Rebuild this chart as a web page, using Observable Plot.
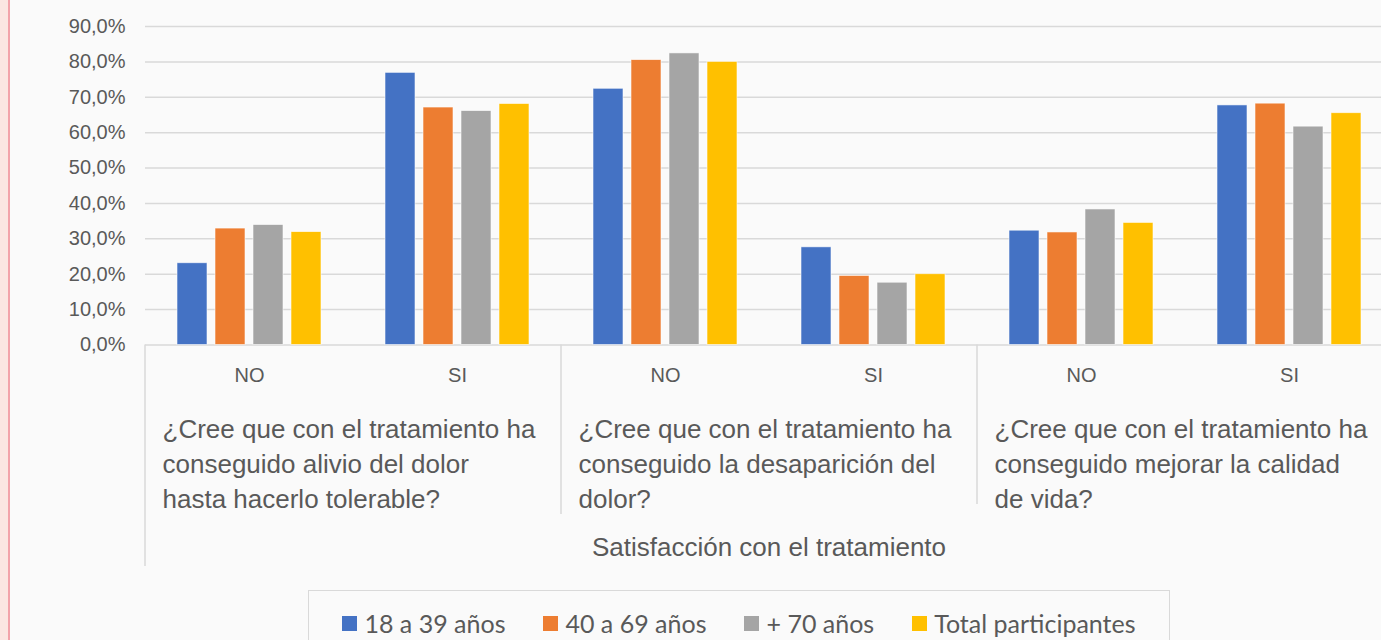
<!DOCTYPE html>
<html>
<head>
<meta charset="utf-8">
<script src="https://cdn.jsdelivr.net/npm/d3@7"></script>
<script src="https://cdn.jsdelivr.net/npm/@observablehq/plot@0.6"></script>
<style>
  html, body { margin: 0; padding: 0; background: #fafafa; width: 1381px; height: 640px; overflow: hidden; }
  #wrap { position: relative; width: 1381px; height: 640px; overflow: hidden; }
  #strip { position: absolute; left: 0; top: 0; width: 8px; height: 640px; background: #fbe6e2; border-right: 2px solid #f2a3aa; }
  #chart { position: absolute; left: 0; top: 0; width: 1393px; }
  #chart svg { max-width: none !important; font-family: "Liberation Sans", Arial, sans-serif !important; }
  #legend { position: absolute; left: 308px; top: 590px; width: 862px; height: 70px; border: 1px solid #d9d9d9;
            display: flex; justify-content: center; align-items: flex-start; gap: 38px; padding-top: 17px; box-sizing: border-box;
            font-family: Lato, "Open Sans", sans-serif; font-size: 25px; color: #595959; }
  .item { display: flex; align-items: center; gap: 7px; line-height: 30px; white-space: nowrap; }
  .sw { width: 15px; height: 15px; display: inline-block; }
</style>
</head>
<body>
<div id="wrap">
  <div id="strip"></div>
  <div id="chart"></div>
  <div id="legend"></div>
</div>
<script>
// ---- data ----
const groupLabels = [
  "¿Cree que con el tratamiento ha\nconseguido alivio del dolor\nhasta hacerlo tolerable?",
  "¿Cree que con el tratamiento ha\nconseguido la desaparición del\ndolor?",
  "¿Cree que con el tratamiento ha\nconseguido mejorar la calidad\nde vida?"
];
const answers = ["NO", "SI"];
const axisTitle = "Satisfacción con el tratamiento";
const series = ["18 a 39 años", "40 a 69 años", "+ 70 años", "Total participantes"];
const colors = ["#4472C4", "#ED7D31", "#A5A5A5", "#FFC000"];
// values per series, order: G1 NO, G1 SI, G2 NO, G2 SI, G3 NO, G3 SI (in %)
const v18to39 = [23.1, 76.9, 72.4, 27.6, 32.3, 67.7];
const v40to69 = [32.9, 67.1, 80.5, 19.5, 31.8, 68.2];
const v70plus = [33.9, 66.1, 82.4, 17.6, 38.3, 61.7];
const vTotal  = [31.9, 68.1, 80.0, 20.0, 34.5, 65.5];
const yTicks = [0, 10, 20, 30, 40, 50, 60, 70, 80, 90];

// ---- build table ----
const seriesValues = [v18to39, v40to69, v70plus, vTotal];
const keys = [];
groupLabels.forEach((g, gi) => answers.forEach(a => keys.push(`${gi}|${a}`)));
const rows = [];
keys.forEach((k, ci) => series.forEach((s, si) => rows.push({key: k, series: s, value: seriesValues[si][ci]})));
const groupRows = groupLabels.map((label, gi) => ({key: `${gi}|NO`, label}));

const fmt = d => d.toFixed(1).replace(".", ",") + "%";
const textColor = "#595959";

const chart = Plot.plot({
  width: 1393,
  height: 590,
  marginLeft: 145,
  marginRight: 0,
  marginTop: 26,
  marginBottom: 245.5,
  style: {background: "transparent", fontFamily: "Liberation Sans, Arial, sans-serif", color: textColor, overflow: "visible"},
  fx: {domain: keys, padding: 0, label: null, axis: null},
  x: {domain: series, paddingInner: 0.21, paddingOuter: 0.84, axis: null},
  y: {domain: [0, 90], label: null, axis: null},
  color: {domain: series, range: colors},
  marks: [
    Plot.gridY(yTicks, {stroke: "#d9d9d9", strokeOpacity: 1, strokeWidth: 1.5}),
    Plot.axisY(yTicks, {tickSize: 0, tickPadding: 20, fontSize: 20, tickFormat: fmt, label: null, fill: textColor}),
    Plot.barY(rows, {fx: "key", x: "series", y: "value", fill: "series", stroke: "#ffffff", strokeWidth: 0.8, strokeOpacity: 0.7}),
    Plot.axisFx({anchor: "bottom", tickSize: 0, tickPadding: 22.5, fontSize: 20, tickFormat: k => k.split("|")[1], label: null, fill: textColor}),
    Plot.text(groupRows, {fx: "key", text: "label", frameAnchor: "bottom-left", textAnchor: "start", lineAnchor: "top",
      dx: 17, dy: 68, fontSize: 26, lineHeight: 1.346, fill: textColor})
  ]
});
document.getElementById("chart").appendChild(chart);

// multi-level axis dividers and the axis title, positioned from the fx scale
const fx = chart.scale("fx");
const svg = d3.select(chart);
const yBase = chart.scale("y").apply(0);
const groupStarts = groupLabels.map((g, gi) => fx.apply(`${gi}|NO`));
const dividerEnds = [566, 514, 504];
groupStarts.forEach((x, i) => {
  svg.append("line").attr("x1", x).attr("x2", x).attr("y1", yBase).attr("y2", dividerEnds[i])
     .attr("stroke", "#d9d9d9").attr("stroke-width", 1.5);
});
const xRange = fx.range;
svg.append("text")
   .attr("x", (xRange[0] + xRange[1]) / 2)
   .attr("y", 556)
   .attr("text-anchor", "middle")
   .attr("font-size", 26)
   .attr("fill", textColor)
   .text(axisTitle);

// legend
const legend = document.getElementById("legend");
series.forEach((s, i) => {
  const it = document.createElement("div");
  it.className = "item";
  const sw = document.createElement("span");
  sw.className = "sw";
  sw.style.background = colors[i];
  const tx = document.createElement("span");
  tx.textContent = s;
  it.appendChild(sw); it.appendChild(tx);
  legend.appendChild(it);
});
</script>
</body>
</html>
